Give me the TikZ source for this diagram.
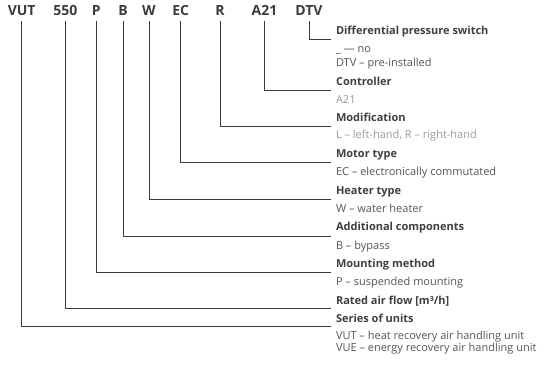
\documentclass[tikz,border=0pt]{standalone}
\usepackage{fontspec}
\setmainfont{Open Sans}
\definecolor{linec}{HTML}{3A3A3A}
\definecolor{codec}{HTML}{3C3C3C}
\definecolor{titlec}{HTML}{3F3F3F}
\definecolor{textc}{HTML}{555555}
\definecolor{lightc}{HTML}{9A9A9A}
\begin{document}
\begin{tikzpicture}[x=1pt,y=-1pt,
  code/.style={anchor=base,inner sep=0pt,outer sep=0pt,text=codec,font=\fontsize{14}{16}\selectfont\bfseries},
  ttl/.style={anchor=base west,inner sep=0pt,outer sep=0pt,text=titlec,font=\fontsize{11}{13}\selectfont\bfseries},
  txt/.style={anchor=base west,inner sep=0pt,outer sep=0pt,text=textc,font=\fontsize{11}{13}\selectfont},
  ltxt/.style={txt,text=lightc},
  conn/.style={draw=linec,line width=0.9pt}]
\useasboundingbox (0,0) rectangle (550,369);
% codes
\node[code] (c-vut) at (21.7,16) {VUT};
\node[code] (c-550) at (65.3,16) {550};
\node[code] (c-p)   at (96.3,16) {P};
\node[code] (c-b)   at (123,16) {B};
\node[code] (c-w)   at (149,16) {W};
\node[code] (c-ec)  at (180.7,16) {EC};
\node[code] (c-r)   at (220,16) {R};
\node[code] (c-a21) at (264.5,16) {A21};
\node[code] (c-dtv) at (309,16) {DTV};
% titles and texts
\node[ttl] (t-dtv) at (336,34.5) {Differential pressure switch};
\node[txt] (x-dtv1) at (336,53) {\_ — no};
\node[txt] (x-dtv2) at (336,67) {DTV – pre-installed};
\node[ttl] (t-a21) at (336,86) {Controller};
\node[ltxt] (x-a21) at (336,103.5) {A21};
\node[ttl] (t-r) at (336,121.5) {Modification};
\node[ltxt] (x-r) at (336,139) {L – left-hand, R – right-hand};
\node[ttl] (t-ec) at (336,157.5) {Motor type};
\node[txt] (x-ec) at (336,175.5) {EC – electronically commutated};
\node[ttl] (t-w) at (336,194.5) {Heater type};
\node[txt] (x-w) at (336,213) {W – water heater};
\node[ttl] (t-b) at (336,230.5) {Additional components};
\node[txt] (x-b) at (336,249) {B – bypass};
\node[ttl] (t-p) at (336,267.5) {Mounting method};
\node[txt] (x-p) at (336,285.5) {P – suspended mounting};
\node[ttl] (t-550) at (336,304.5) {Rated air flow [m³/h]};
\node[ttl] (t-vut) at (336,322.3) {Series of units};
\node[txt] (x-vut1) at (336,339.5) {VUT – heat recovery air handling unit};
\node[txt] (x-vut2) at (336,351) {VUE – energy recovery air handling unit};
% line ends
\coordinate (e-dtv) at (331,39);
\coordinate (e-a21) at (331,90);
\coordinate (e-r)   at (331,126);
\coordinate (e-ec)  at (331,162);
\coordinate (e-w)   at (331,199);
\coordinate (e-b)   at (331,236);
\coordinate (e-p)   at (331,272);
\coordinate (e-550) at (331,308);
\coordinate (e-vut) at (331,326);
% connectors
\foreach \k in {vut,550,p,b,w,ec,r,a21,dtv}
  \draw[conn] ([yshift=-5pt]c-\k.base) |- (e-\k);
\end{tikzpicture}
\end{document}
